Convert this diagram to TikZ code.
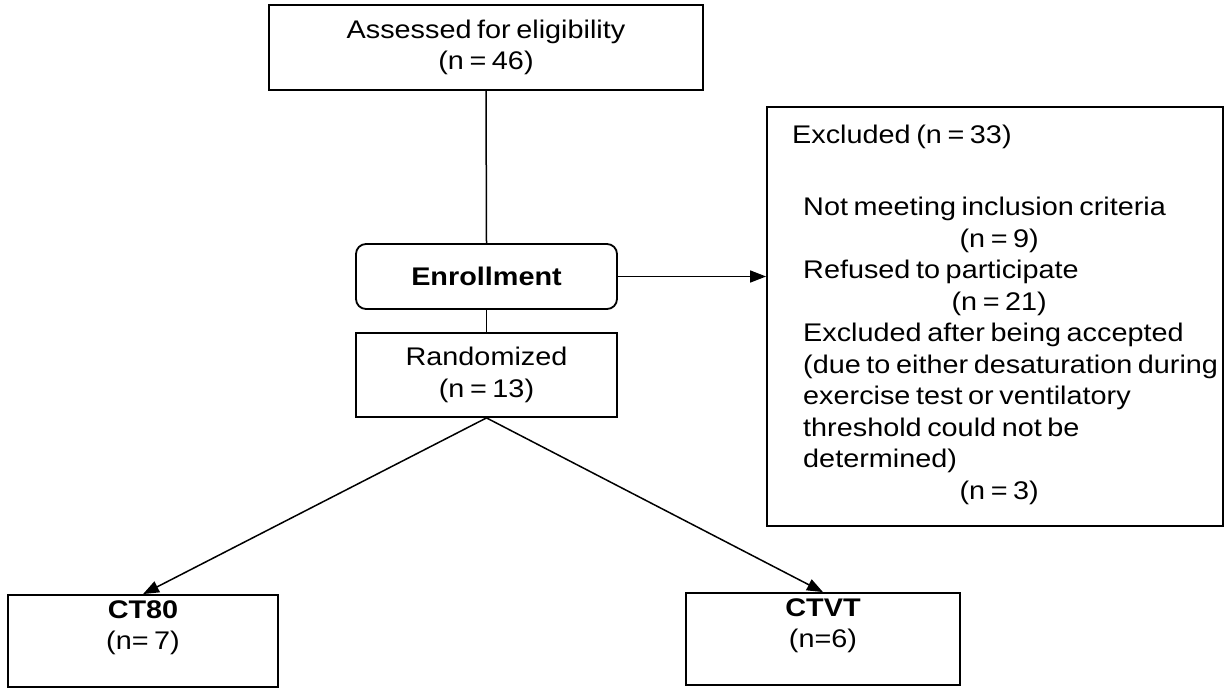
\documentclass[tikz,border=0pt]{standalone}
\usepackage{fontspec}
\setmainfont[FakeStretch=1.13, WordSpace=0.7]{Liberation Sans}
\usetikzlibrary{arrows.meta}
\begin{document}
\begin{tikzpicture}[x=1pt,y=-1pt,
  box/.style={draw, line width=1.8pt, rectangle, inner sep=0pt, align=center},
  conn/.style={line width=1.5pt},
  arr/.style={conn, -{Triangle[length=16pt,width=12pt]}},
  every node/.style={font=\fontsize{25.5}{31.5}\selectfont}]
\useasboundingbox (0,0) rectangle (1228,688);
\node[box, minimum width=434pt, minimum height=85pt] (assess) at (486,47.5) {Assessed for eligibility\\(n = 46)};
\node[box, rounded corners=10pt, minimum width=261pt, minimum height=65pt] (enroll) at (486.5,276.5) {\textbf{Enrollment}};
\node[box, minimum width=261pt, minimum height=84pt] (random) at (486.5,375) {Randomized\\(n = 13)};
\node[box, minimum width=456pt, minimum height=419pt] (excl) at (995,316.5) {};
\node[anchor=west, inner sep=0pt] (exhead) at (792,137) {Excluded (n = 33)};
\node[anchor=north west, inner sep=0pt, align=left] (exbody) at (803,197) {Not meeting inclusion criteria\\
\makebox[392pt]{(n = 9)}\\
Refused to participate\\
\makebox[392pt]{(n = 21)}\\
Excluded after being accepted\\
(due to either desaturation during\\
exercise test or ventilatory\\
threshold could not be\\
determined)\\
\makebox[392pt]{(n = 3)}};
\node[box, minimum width=270pt, minimum height=92pt] (ct80) at (143,641) {\textbf{CT80}\\(n= 7)\\\mbox{}};
\node[box, minimum width=274pt, minimum height=92pt] (ctvt) at (823,639) {\textbf{CTVT}\\(n=6)\\\mbox{}};
\draw[conn] (assess.south) -- (enroll.north);
\draw[conn] (enroll.south) -- (random.north);
\draw[arr] (enroll.east) -- (enroll.east -| excl.west);
\draw[arr] (random.south) -- (ct80.north);
\draw[arr] (random.south) -- (ctvt.north);
\end{tikzpicture}
\end{document}
